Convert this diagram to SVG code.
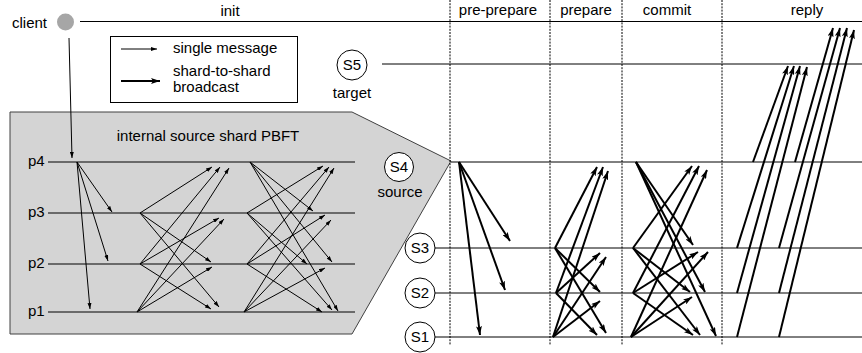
<svg xmlns="http://www.w3.org/2000/svg" width="862" height="353" viewBox="0 0 862 353">
<style>
text{font-family:"Liberation Sans",Arial,sans-serif;font-size:15px;fill:#000}
.c{text-anchor:middle}
.h{stroke:#000;stroke-width:1;fill:none}
.d{stroke:#000;stroke-width:1;stroke-dasharray:2 1.2;fill:none}
.t{stroke:#000;stroke-width:1;fill:none;marker-end:url(#ah)}
.k{stroke:#000;stroke-width:2;fill:none;marker-end:url(#ak)}
.n{fill:#fff;stroke:#000;stroke-width:1}
</style>
<defs>
<marker id="ah" viewBox="0 0 6 4" refX="6" refY="2" markerWidth="6" markerHeight="4" orient="auto" markerUnits="userSpaceOnUse"><path d="M0,0 L6,2 L0,4 z" fill="#000"/></marker>
<marker id="ak" viewBox="0 0 9 6" refX="9" refY="3" markerWidth="9" markerHeight="6" orient="auto" markerUnits="userSpaceOnUse"><path d="M0,0 L9,3 L0,6 L2,3 z" fill="#000"/></marker>
</defs>
<rect width="862" height="353" fill="#fff"/>

<g id="source-shard">
<polygon points="10,112 352,112 451,161 352,334 10,334" fill="#d4d4d4" stroke="#404040" stroke-width="1"/>
<text class="c" x="208" y="141">internal source shard PBFT</text>
</g>

<g id="phases">
<line class="d" x1="450" y1="0" x2="450" y2="345"/>
<line class="d" x1="550" y1="0" x2="550" y2="345"/>
<line class="d" x1="622" y1="0" x2="622" y2="345"/>
<line class="d" x1="722" y1="0" x2="722" y2="345"/>
<text class="c" x="230" y="16">init</text>
<text class="c" x="498" y="15">pre-prepare</text>
<text class="c" x="586" y="15">prepare</text>
<text class="c" x="667" y="15">commit</text>
<text class="c" x="807" y="15">reply</text>
</g>

<g id="client">
<circle cx="65.5" cy="22" r="8.5" fill="#a6a6a6"/>
<text x="12" y="28">client</text>
<line class="h" x1="80" y1="21.5" x2="862" y2="21.5"/>
</g>

<g id="legend">
<rect x="110.5" y="36.5" width="187" height="66" fill="#fff" stroke="#000" stroke-width="1"/>
<line class="t" x1="121" y1="49" x2="157" y2="49"/>
<text x="173" y="53">single message</text>
<line class="k" x1="121" y1="81" x2="160" y2="81"/>
<text x="173" y="76">shard-to-shard</text>
<text x="173" y="92">broadcast</text>
</g>

<g id="p4"><text x="28" y="166">p4</text><line class="h" x1="48" y1="162" x2="355" y2="162"/></g>
<g id="p3"><text x="28" y="217">p3</text><line class="h" x1="48" y1="213" x2="355" y2="213"/></g>
<g id="p2"><text x="28" y="268">p2</text><line class="h" x1="48" y1="264" x2="355" y2="264"/></g>
<g id="p1"><text x="28" y="316">p1</text><line class="h" x1="48" y1="312" x2="355" y2="312"/></g>

<g id="S5"><circle class="n" cx="352" cy="65" r="15"/><text class="c" x="352" y="70">S5</text><text class="c" x="352" y="98">target</text><line class="h" x1="382" y1="64" x2="862" y2="64"/></g>
<g id="S4"><circle class="n" cx="399" cy="167" r="14.5"/><text class="c" x="399" y="172">S4</text><text class="c" x="400" y="197">source</text><line class="h" x1="451" y1="162" x2="862" y2="162"/></g>
<g id="S3"><circle class="n" cx="420" cy="248" r="15"/><text class="c" x="420" y="253">S3</text><line class="h" x1="435" y1="248" x2="862" y2="248"/></g>
<g id="S2"><circle class="n" cx="420" cy="293" r="15"/><text class="c" x="420" y="298">S2</text><line class="h" x1="435" y1="293" x2="862" y2="293"/></g>
<g id="S1"><circle class="n" cx="420" cy="337" r="15"/><text class="c" x="420" y="342">S1</text><line class="h" x1="435" y1="337" x2="862" y2="337"/></g>

<g id="connectors">
<!-- client request -->
<line class="t" x1="69" y1="38" x2="72" y2="158"/>
<!-- internal pre-prepare -->
<line class="t" x1="77" y1="162" x2="112" y2="212"/>
<line class="t" x1="77" y1="162" x2="108" y2="261"/>
<line class="t" x1="77" y1="162" x2="90" y2="309"/>
<!-- internal prepare -->
<line class="t" x1="140" y1="213" x2="212" y2="167"/>
<line class="t" x1="140" y1="213" x2="211" y2="262"/>
<line class="t" x1="140" y1="213" x2="219" y2="307"/>
<line class="t" x1="140" y1="264" x2="220" y2="167"/>
<line class="t" x1="140" y1="264" x2="219" y2="218"/>
<line class="t" x1="140" y1="264" x2="211" y2="309"/>
<line class="t" x1="137" y1="312" x2="229" y2="168"/>
<line class="t" x1="137" y1="312" x2="224" y2="219"/>
<line class="t" x1="137" y1="312" x2="212" y2="267"/>
<!-- internal commit -->
<line class="t" x1="250" y1="162" x2="313" y2="211"/>
<line class="t" x1="250" y1="162" x2="332" y2="262"/>
<line class="t" x1="250" y1="162" x2="338" y2="311"/>
<line class="t" x1="247" y1="213" x2="323" y2="166"/>
<line class="t" x1="247" y1="213" x2="307" y2="264"/>
<line class="t" x1="247" y1="213" x2="332" y2="310"/>
<line class="t" x1="247" y1="264" x2="329" y2="167"/>
<line class="t" x1="247" y1="264" x2="325" y2="215"/>
<line class="t" x1="247" y1="264" x2="322" y2="312"/>
<line class="t" x1="244" y1="312" x2="334" y2="168"/>
<line class="t" x1="244" y1="312" x2="331" y2="220"/>
<line class="t" x1="244" y1="312" x2="325" y2="268"/>
<!-- pre-prepare -->
<line class="k" x1="459" y1="162" x2="510" y2="241"/>
<line class="k" x1="459" y1="162" x2="505" y2="290"/>
<line class="k" x1="459" y1="162" x2="480" y2="335"/>
<!-- prepare -->
<line class="k" x1="555" y1="248" x2="597" y2="167"/>
<line class="k" x1="555" y1="248" x2="600" y2="292"/>
<line class="k" x1="555" y1="248" x2="606" y2="333"/>
<line class="k" x1="556" y1="293" x2="603" y2="167"/>
<line class="k" x1="556" y1="293" x2="600" y2="253"/>
<line class="k" x1="556" y1="293" x2="597" y2="335"/>
<line class="k" x1="553" y1="337" x2="608" y2="171"/>
<line class="k" x1="553" y1="337" x2="606" y2="257"/>
<line class="k" x1="553" y1="337" x2="600" y2="301"/>
<!-- commit -->
<line class="k" x1="636" y1="162" x2="693" y2="245"/>
<line class="k" x1="636" y1="162" x2="705" y2="292"/>
<line class="k" x1="636" y1="162" x2="716" y2="336"/>
<line class="k" x1="633" y1="248" x2="692" y2="166"/>
<line class="k" x1="633" y1="248" x2="690" y2="292"/>
<line class="k" x1="633" y1="248" x2="700" y2="335"/>
<line class="k" x1="633" y1="293" x2="699" y2="166"/>
<line class="k" x1="633" y1="293" x2="698" y2="252"/>
<line class="k" x1="633" y1="293" x2="693" y2="335"/>
<line class="k" x1="631" y1="337" x2="707" y2="170"/>
<line class="k" x1="631" y1="337" x2="708" y2="252"/>
<line class="k" x1="631" y1="337" x2="692" y2="297"/>
<!-- reply -->
<line class="k" x1="753" y1="162" x2="788" y2="66"/>
<line class="k" x1="737" y1="248" x2="794" y2="66"/>
<line class="k" x1="737" y1="293" x2="800" y2="66"/>
<line class="k" x1="737" y1="337" x2="807" y2="67"/>
<line class="k" x1="795" y1="162" x2="833" y2="28"/>
<line class="k" x1="779" y1="248" x2="840" y2="28"/>
<line class="k" x1="779" y1="293" x2="847" y2="28"/>
<line class="k" x1="779" y1="337" x2="854" y2="30"/>
</g>
</svg>
